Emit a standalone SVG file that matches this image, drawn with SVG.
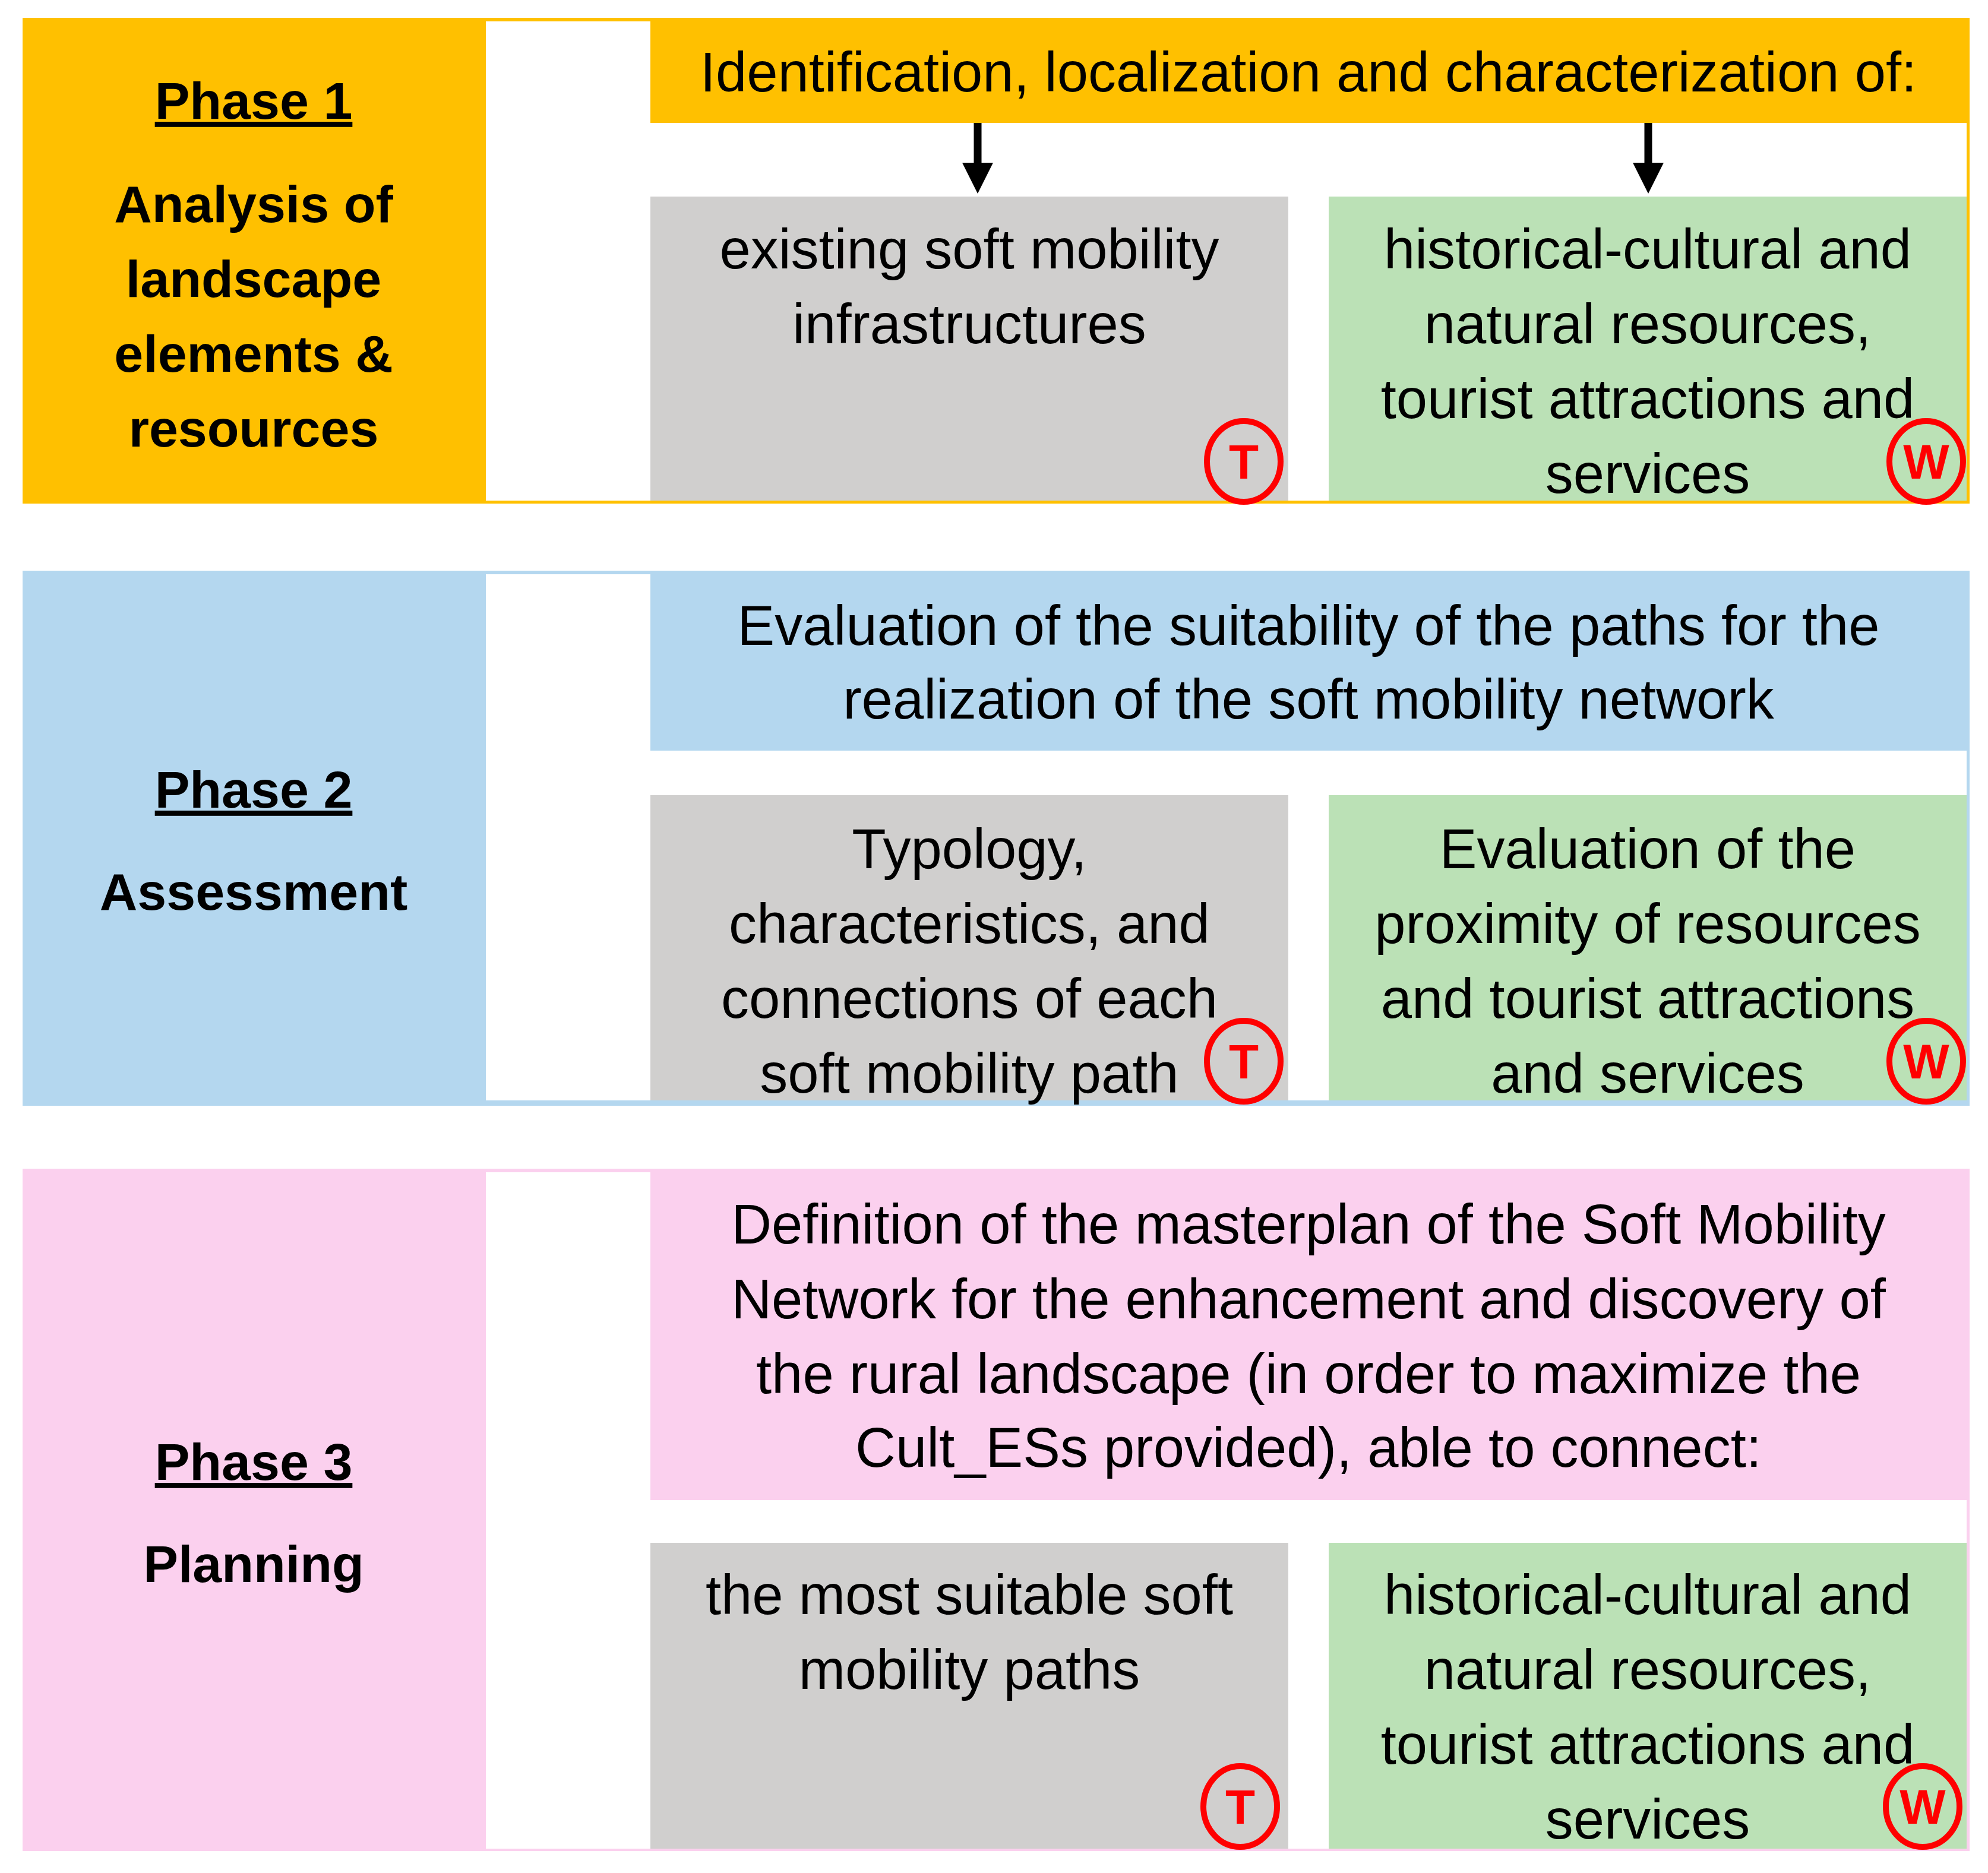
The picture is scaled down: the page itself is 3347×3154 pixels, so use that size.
<svg xmlns="http://www.w3.org/2000/svg" width="3347" height="3154" viewBox="0 0 3347 3154">
<style>
text{font-family:"Liberation Sans",Arial,sans-serif;font-size:94px;fill:#000;text-anchor:middle}
.b{font-weight:bold;font-size:88px}
.u{text-decoration:underline}
.gray{fill:#d0cfce}.green{fill:#bbe1b6}
.c{fill:none;stroke:#ff0000;stroke-width:10}
.cl{fill:#ff0000;font-size:82px;font-weight:bold}
</style>
<defs><marker id="ah" markerWidth="4" markerHeight="4" refX="2" refY="2" orient="auto" markerUnits="strokeWidth"><path d="M0,0L4,2L0,4z" fill="#000"/></marker></defs>
<rect width="3347" height="3154" fill="#fff"/>
<g id="phase1">
<rect x="38" y="30" width="3278" height="818" fill="#ffc000"/>
<rect x="818" y="36" width="2493" height="807" fill="#fff"/>
<rect x="1095" y="30" width="2221" height="177" fill="#ffc000"/>
<text class="b u" x="427" y="200">Phase 1</text>
<text class="b" x="427" y="374">Analysis of</text>
<text class="b" x="427" y="500">landscape</text>
<text class="b" x="427" y="626">elements &amp;</text>
<text class="b" x="427" y="752">resources</text>
<text x="2203" y="154">Identification, localization and characterization of:</text>
</g>
<g id="p1gray"><rect class="gray" x="1095" y="331" width="1074" height="512"/>
<text x="1632" y="452">existing soft mobility</text><text x="1632" y="578">infrastructures</text>
<ellipse class="c" cx="2094" cy="777" rx="62" ry="68"/><text class="cl" x="2094" y="806">T</text></g>
<g id="p1green"><rect class="green" x="2237" y="331" width="1074" height="512"/>
<text x="2774" y="452">historical-cultural and</text><text x="2774" y="578">natural resources,</text><text x="2774" y="704">tourist attractions and</text><text x="2774" y="830">services</text>
<ellipse class="c" cx="3243" cy="777" rx="62" ry="68"/><text class="cl" x="3243" y="806">W</text></g>
<g id="phase2">
<rect x="38" y="961" width="3278" height="901" fill="#b4d7ef"/>
<rect x="818" y="967" width="2493" height="886" fill="#fff"/>
<rect x="1095" y="961" width="2221" height="303" fill="#b4d7ef"/>
<text class="b u" x="427" y="1360">Phase 2</text>
<text class="b" x="427" y="1532">Assessment</text>
<text x="2203" y="1086">Evaluation of the suitability of the paths for the</text>
<text x="2203" y="1210">realization of the soft mobility network</text>
</g>
<g id="p2gray"><rect class="gray" x="1095" y="1339" width="1074" height="514"/>
<text x="1632" y="1462">Typology,</text><text x="1632" y="1588">characteristics, and</text><text x="1632" y="1714">connections of each</text><text x="1632" y="1840">soft mobility path</text>
<ellipse class="c" cx="2094" cy="1787" rx="62" ry="68"/><text class="cl" x="2094" y="1816">T</text></g>
<g id="p2green"><rect class="green" x="2237" y="1339" width="1074" height="514"/>
<text x="2774" y="1462">Evaluation of the</text><text x="2774" y="1588">proximity of resources</text><text x="2774" y="1714">and tourist attractions</text><text x="2774" y="1840">and services</text>
<ellipse class="c" cx="3243" cy="1787" rx="62" ry="68"/><text class="cl" x="3243" y="1816">W</text></g>
<g id="phase3">
<rect x="38" y="1968" width="3278" height="1149" fill="#fbd0ee"/>
<rect x="818" y="1974" width="2493" height="1139" fill="#fff"/>
<rect x="1095" y="1968" width="2221" height="558" fill="#fbd0ee"/>
<text class="b u" x="427" y="2492">Phase 3</text>
<text class="b" x="427" y="2664">Planning</text>
<text x="2203" y="2094">Definition of the masterplan of the Soft Mobility</text>
<text x="2203" y="2220">Network for the enhancement and discovery of</text>
<text x="2203" y="2346">the rural landscape (in order to maximize the</text>
<text x="2203" y="2470">Cult_ESs provided), able to connect:</text>
</g>
<g id="p3gray"><rect class="gray" x="1095" y="2598" width="1074" height="515"/>
<text x="1632" y="2718">the most suitable soft</text><text x="1632" y="2844">mobility paths</text>
<ellipse class="c" cx="2088" cy="3042" rx="62" ry="68"/><text class="cl" x="2088" y="3071">T</text></g>
<g id="p3green"><rect class="green" x="2237" y="2598" width="1074" height="515"/>
<text x="2774" y="2718">historical-cultural and</text><text x="2774" y="2844">natural resources,</text><text x="2774" y="2970">tourist attractions and</text><text x="2774" y="3096">services</text>
<ellipse class="c" cx="3237" cy="3042" rx="62" ry="68"/><text class="cl" x="3237" y="3071">W</text></g>
<g id="connectors" stroke="#000" stroke-width="13">
<line x1="1646" y1="207" x2="1646" y2="300" marker-end="url(#ah)"/>
<line x1="2775" y1="207" x2="2775" y2="300" marker-end="url(#ah)"/>
</g>
</svg>
